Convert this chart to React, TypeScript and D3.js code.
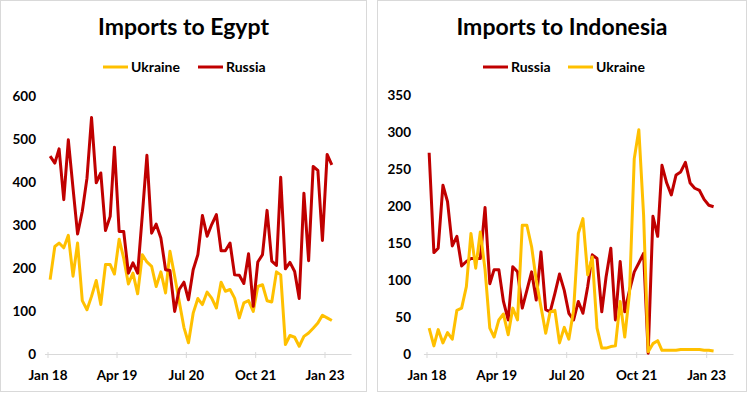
import React from "react";
import * as d3 from "d3";

const egyptUkraine = [173,250,258,247,276,181,258,124,103,134,171,115,208,208,186,267,223,163,188,140,231,214,204,157,191,142,239,181,122,62,26,95,129,115,144,130,107,167,146,150,130,84,119,124,99,157,161,124,121,191,184,22,43,39,18,41,49,60,72,90,84,78];
const egyptRussia = [460,444,477,359,498,385,279,332,409,550,398,421,287,320,481,285,285,188,212,188,324,462,281,302,270,196,194,99,150,167,126,196,231,322,274,301,324,240,240,258,184,183,164,233,111,214,231,334,216,206,411,198,213,192,129,374,217,436,427,264,464,440];
const indoRussia = [272,137,143,228,206,146,159,119,125,129,129,129,198,95,114,114,71,46,118,111,62,86,111,73,138,60,57,82,108,86,55,46,71,55,91,134,129,57,104,143,46,125,57,86,111,123,136,1,186,159,255,231,215,242,246,259,231,224,221,209,201,199];
const indoUkraine = [35,11,33,15,29,20,59,62,91,163,116,165,114,35,23,46,54,26,62,46,174,174,145,100,64,28,57,59,15,36,20,59,163,183,107,131,35,8,8,10,11,71,23,82,264,303,188,3,14,18,5,5,5,5,6,6,6,6,6,5,5,4];

const tickLabels = ["Jan 18", "Apr 19", "Jul 20", "Oct 21", "Jan 23"];
const tickDates = [new Date(2018, 0, 1), new Date(2019, 3, 1), new Date(2020, 6, 1), new Date(2021, 9, 1), new Date(2023, 0, 1)];
const egyptYTicks = [0, 100, 200, 300, 400, 500, 600];
const indoYTicks = [0, 50, 100, 150, 200, 250, 300, 350];

const RED = "#C00000";
const YELLOW = "#FFC000";
const FONT = "Lato, 'Open Sans', sans-serif";

const dates = egyptUkraine.map((_, i) => new Date(2018, i, 15));

type Series = { name: string; color: string; values: number[] };

function Panel(props: {
  ox: number; w: number; title: string; series: Series[]; yMax: number; yTicks: number[];
  x0: number; x1: number; yTop: number; labelRight: number; legendX: number[];
}) {
  const { ox, w, title, series, yMax, yTicks, x0, x1, yTop, labelRight, legendX } = props;
  const x = d3.scaleTime().domain([new Date(2018, 0, 1), new Date(2023, 0, 1)]).range([x0, x1]);
  const y = d3.scaleLinear().domain([0, yMax]).range([354, yTop]);
  const line = d3.line<number>().x((_, i) => x(dates[i])).y((d) => y(d));
  const axStart = x(new Date(2017, 11, 12));
  const axEnd = x(new Date(2023, 5, 25));
  return (
    <g>
      <rect x={ox + 0.5} y={0.5} width={w} height={391} fill="#fff" stroke="#d9d9d9" />
      <text x={ox + w / 2 + 0.5} y={35} textAnchor="middle" fontFamily={FONT} fontWeight="bold" fontSize={23} fill="#000">{title}</text>
      {series.map((s, k) => (
        <g key={s.name}>
          <line x1={legendX[k]} x2={legendX[k] + 25} y1={67} y2={67} stroke={s.color} strokeWidth={3} />
          <text x={legendX[k] + 28} y={72} fontFamily={FONT} fontWeight="bold" fontSize={14} fill="#000">{s.name}</text>
        </g>
      ))}
      {yTicks.map((t) => (
        <text key={t} x={labelRight} y={y(t) + 5} textAnchor="end" fontFamily={FONT} fontWeight="bold" fontSize={13.5} fill="#000">{t}</text>
      ))}
      <line x1={axStart} x2={axEnd} y1={354.5} y2={354.5} stroke="#d9d9d9" strokeWidth={1} />
      {tickDates.map((d, i) => (
        <g key={i}>
          <line x1={x(d)} x2={x(d)} y1={352} y2={358} stroke="#d9d9d9" />
          <text x={x(d)} y={380} textAnchor="middle" fontFamily={FONT} fontWeight="bold" fontSize={13.5} fill="#000">{tickLabels[i]}</text>
        </g>
      ))}
      {series.map((s) => (
        <path key={s.name} d={line(s.values) || ""} fill="none" stroke={s.color} strokeWidth={3} strokeLinejoin="round" />
      ))}
    </g>
  );
}

export default function App() {
  return (
    <div style={{ position: "absolute", left: 0, top: 0 }}>
      <svg width={750} height={394} style={{ display: "block", background: "#fff" }}>
        <rect x={0} y={0} width={750} height={394} fill="#fff" />
        <Panel ox={0} w={366} title="Imports to Egypt"
          series={[{ name: "Ukraine", color: YELLOW, values: egyptUkraine }, { name: "Russia", color: RED, values: egyptRussia }]}
          yMax={600} yTicks={egyptYTicks} x0={48} x1={325} yTop={96} labelRight={36} legendX={[103, 198]} />
        <Panel ox={377} w={369} title="Imports to Indonesia"
          series={[{ name: "Russia", color: RED, values: indoRussia }, { name: "Ukraine", color: YELLOW, values: indoUkraine }]}
          yMax={350} yTicks={indoYTicks} x0={427} x1={706.7} yTop={95} labelRight={411} legendX={[483, 568]} />
      </svg>
    </div>
  );
}
